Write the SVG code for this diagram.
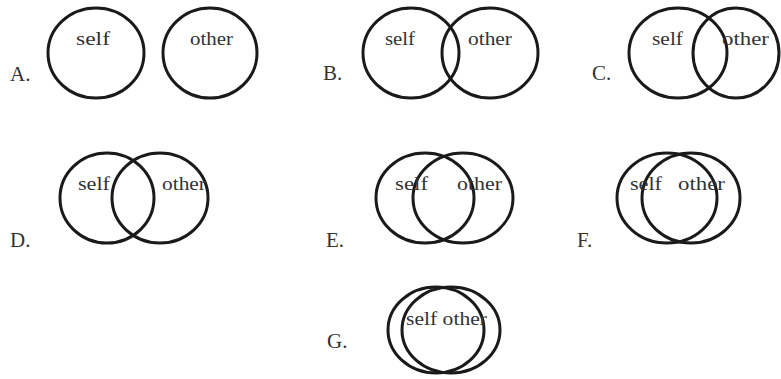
<svg xmlns="http://www.w3.org/2000/svg" width="781" height="379" viewBox="0 0 781 379">
<style>
.c{fill:none;stroke:#1a1a1a;stroke-width:3}
.t{font-family:"Liberation Serif","Times New Roman",serif;font-size:19px;fill:#333}
.l{font-family:"Liberation Serif","Times New Roman",serif;font-size:21px;fill:#333}
</style>
<rect width="781" height="379" fill="#fff"/>
<g id="A">
<ellipse class="c" cx="96" cy="53" rx="48" ry="45"/>
<ellipse class="c" cx="210" cy="53" rx="47" ry="45"/>
<text class="t" x="76" y="45" textLength="34" lengthAdjust="spacingAndGlyphs">self</text>
<text class="t" x="190" y="45" textLength="43" lengthAdjust="spacingAndGlyphs">other</text>
<text class="l" x="10" y="81">A.</text>
</g>
<g id="B">
<ellipse class="c" cx="411" cy="53" rx="48" ry="45"/>
<ellipse class="c" cx="490" cy="53" rx="48" ry="45"/>
<text class="t" x="385" y="45" textLength="30" lengthAdjust="spacingAndGlyphs">self</text>
<text class="t" x="468" y="45" textLength="44" lengthAdjust="spacingAndGlyphs">other</text>
<text class="l" x="323" y="80">B.</text>
</g>
<g id="C">
<ellipse class="c" cx="678" cy="53" rx="49" ry="45"/>
<ellipse class="c" cx="736" cy="53" rx="43" ry="45"/>
<text class="t" x="652" y="45" textLength="31" lengthAdjust="spacingAndGlyphs">self</text>
<text class="t" x="722" y="45" textLength="47" lengthAdjust="spacingAndGlyphs">other</text>
<text class="l" x="592" y="80">C.</text>
</g>
<g id="D">
<ellipse class="c" cx="107" cy="198" rx="47" ry="45"/>
<ellipse class="c" cx="160" cy="198" rx="48" ry="45"/>
<text class="t" x="78" y="190" textLength="32" lengthAdjust="spacingAndGlyphs">self</text>
<text class="t" x="162" y="190" textLength="44" lengthAdjust="spacingAndGlyphs">other</text>
<text class="l" x="10" y="247">D.</text>
</g>
<g id="E">
<ellipse class="c" cx="425" cy="198" rx="49" ry="45"/>
<ellipse class="c" cx="463" cy="198" rx="50" ry="45"/>
<text class="t" x="395" y="190" textLength="33" lengthAdjust="spacingAndGlyphs">self</text>
<text class="t" x="457" y="190" textLength="45" lengthAdjust="spacingAndGlyphs">other</text>
<text class="l" x="326" y="247">E.</text>
</g>
<g id="F">
<ellipse class="c" cx="667" cy="198" rx="50" ry="45"/>
<ellipse class="c" cx="691" cy="198" rx="49" ry="45"/>
<text class="t" x="630" y="190" textLength="32" lengthAdjust="spacingAndGlyphs">self</text>
<text class="t" x="678" y="190" textLength="47" lengthAdjust="spacingAndGlyphs">other</text>
<text class="l" x="577" y="247">F.</text>
</g>
<g id="G">
<ellipse class="c" cx="436" cy="330" rx="48" ry="43"/>
<ellipse class="c" cx="451" cy="330" rx="49" ry="43"/>
<text class="t" x="406" y="325" textLength="81" lengthAdjust="spacingAndGlyphs">self other</text>
<text class="l" x="327" y="348">G.</text>
</g>
</svg>
